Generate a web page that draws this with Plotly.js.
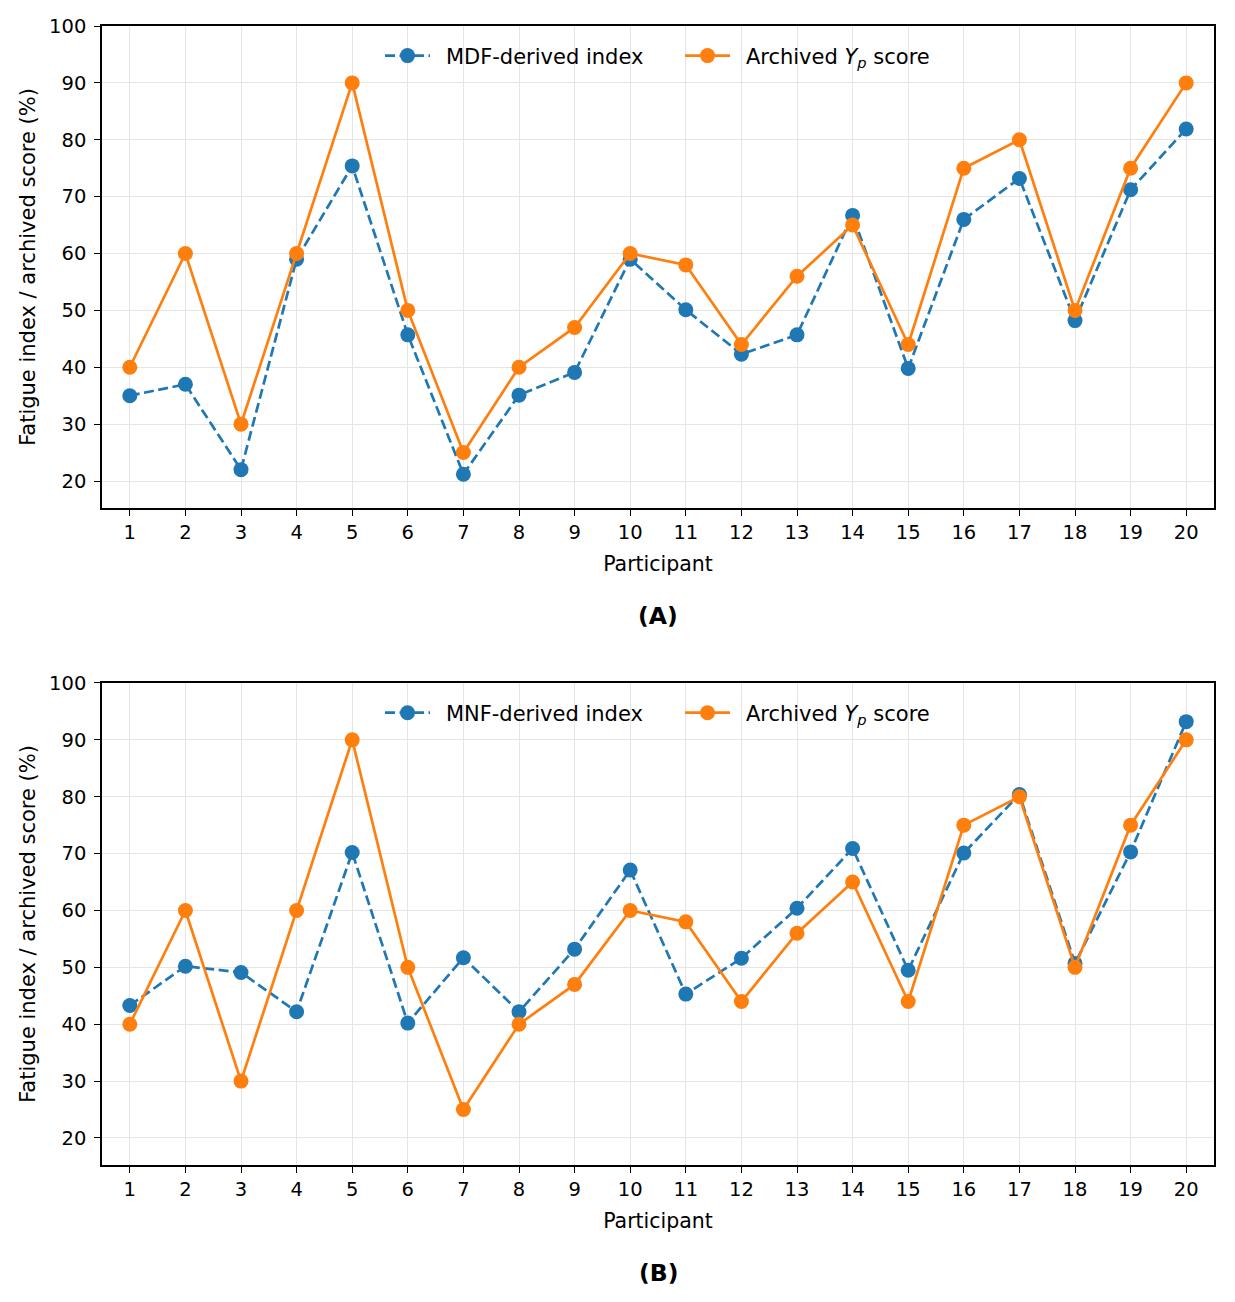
<!DOCTYPE html>
<html>
<head>
<meta charset="utf-8">
<script src="https://cdn.plot.ly/plotly-3.0.1.min.js"></script>
<style>
  html, body { margin: 0; padding: 0; background: #fff; }
  #chart { width: 1235px; height: 1302px; }
</style>
</head>
<body>
<div id="chart"></div>
<script>
// ── data ──
const participants = [1, 2, 3, 4, 5, 6, 7, 8, 9, 10, 11, 12, 13, 14, 15, 16, 17, 18, 19, 20];
const tickLabels   = ['1', '2', '3', '4', '5', '6', '7', '8', '9', '10',
                      '11', '12', '13', '14', '15', '16', '17', '18', '19', '20'];
const mdfIndex   = [35.0, 37.0, 22.0, 59.0, 75.4, 45.7, 21.2, 35.1, 39.1, 59.0,
                    50.1, 42.3, 45.7, 66.7, 39.8, 66.0, 73.2, 48.2, 71.2, 81.9];
const mnfIndex   = [43.3, 50.2, 49.1, 42.2, 70.2, 40.2, 51.7, 42.2, 53.2, 67.1,
                    45.3, 51.6, 60.4, 70.9, 49.5, 70.1, 80.4, 50.7, 70.3, 93.2];
const archivedYp = [40, 60, 30, 60, 90, 50, 25, 40, 47, 60,
                    58, 44, 56, 65, 44, 75, 80, 50, 75, 90];
const yTicks = [20, 30, 40, 50, 60, 70, 80, 90, 100];

const BLUE = '#1f77b4';
const ORANGE = '#ff7f0e';
const FONT = "'DejaVu Sans', sans-serif";
// a little padding widens the handle-to-text gap like matplotlib's legend
const PAD = '\u00a0\u2009';
const ARCHIVED_NAME = PAD + 'Archived <i>Y</i><sub><i>p</i></sub> score';

function indexTrace(y, name, xa, ya, legend) {
  return {
    type: 'scatter', mode: 'lines+markers',
    x: participants, y: y, name: PAD + name,
    xaxis: xa, yaxis: ya, legend: legend,
    line: { color: BLUE, width: 2.7, dash: '10px,4.5px' },
    marker: { color: BLUE, size: 15 },
  };
}

function archivedTrace(xa, ya, legend) {
  return {
    type: 'scatter', mode: 'lines+markers',
    x: participants, y: archivedYp, name: ARCHIVED_NAME,
    xaxis: xa, yaxis: ya, legend: legend,
    line: { color: ORANGE, width: 2.7 },
    marker: { color: ORANGE, size: 15 },
  };
}

const traces = [
  indexTrace(mdfIndex, 'MDF-derived index', 'x', 'y', 'legend'),
  archivedTrace('x', 'y', 'legend'),
  indexTrace(mnfIndex, 'MNF-derived index', 'x2', 'y2', 'legend2'),
  archivedTrace('x2', 'y2', 'legend2'),
];

function xAxis(anchor) {
  return {
    anchor: anchor, domain: [0, 1],
    range: [0.5, 20.5],
    tickvals: participants, ticktext: tickLabels,
    showgrid: true, gridcolor: '#e5e5e5', gridwidth: 1,
    zeroline: false,
    showline: true, linecolor: '#000', linewidth: 1.5, mirror: true,
    ticks: 'outside', ticklen: 6, tickwidth: 1.3, tickcolor: '#000',
    tickfont: { family: FONT, size: 19.5, color: '#000' },
    title: { text: 'Participant', font: { family: FONT, size: 20.5, color: '#000' }, standoff: 13 },
  };
}

function yAxis(anchor, domain) {
  return {
    anchor: anchor, domain: domain,
    range: [15.25, 100],
    tickvals: yTicks,
    showgrid: true, gridcolor: '#e5e5e5', gridwidth: 1,
    zeroline: false,
    showline: true, linecolor: '#000', linewidth: 1.5, mirror: true,
    ticks: 'outside', ticklen: 6, tickwidth: 1.3, tickcolor: '#000',
    ticklabelstandoff: 4,
    tickfont: { family: FONT, size: 19.5, color: '#000' },
    title: { text: 'Fatigue index / archived score (%)', font: { family: FONT, size: 21, color: '#000' }, standoff: 8 },
  };
}

function legendAt(y) {
  return {
    orientation: 'h', x: 0.5198, xanchor: 'center', y: y, yanchor: 'middle',
    bgcolor: 'rgba(0,0,0,0)', borderwidth: 0,
    font: { family: FONT, size: 21, color: '#000' },
    itemwidth: 45,
    entrywidthmode: 'pixels', entrywidth: 240,
  };
}

const layout = {
  width: 1235, height: 1302,
  paper_bgcolor: '#fff', plot_bgcolor: '#fff',
  margin: { l: 102, r: 21, t: 26, b: 137 },
  showlegend: true,
  font: { family: FONT, color: '#000' },
  xaxis: xAxis('y'),
  yaxis: yAxis('x', [0.5768, 1]),
  xaxis2: xAxis('y2'),
  yaxis2: yAxis('x2', [0, 0.4232]),
  legend: legendAt(0.9737),
  legend2: legendAt(0.3968),
  annotations: [
    { text: '<b>(A)</b>', xref: 'paper', yref: 'paper', x: 0.5, y: 0.482,
      xanchor: 'center', yanchor: 'middle', showarrow: false,
      font: { family: FONT, size: 23.5, color: '#000' } },
    { text: '<b>(B)</b>', xref: 'paper', yref: 'paper', x: 0.5, y: -0.0948,
      xanchor: 'center', yanchor: 'middle', showarrow: false,
      font: { family: FONT, size: 23.5, color: '#000' } },
  ],
};

Plotly.newPlot('chart', traces, layout, { displayModeBar: false, responsive: false });
</script>
</body>
</html>
